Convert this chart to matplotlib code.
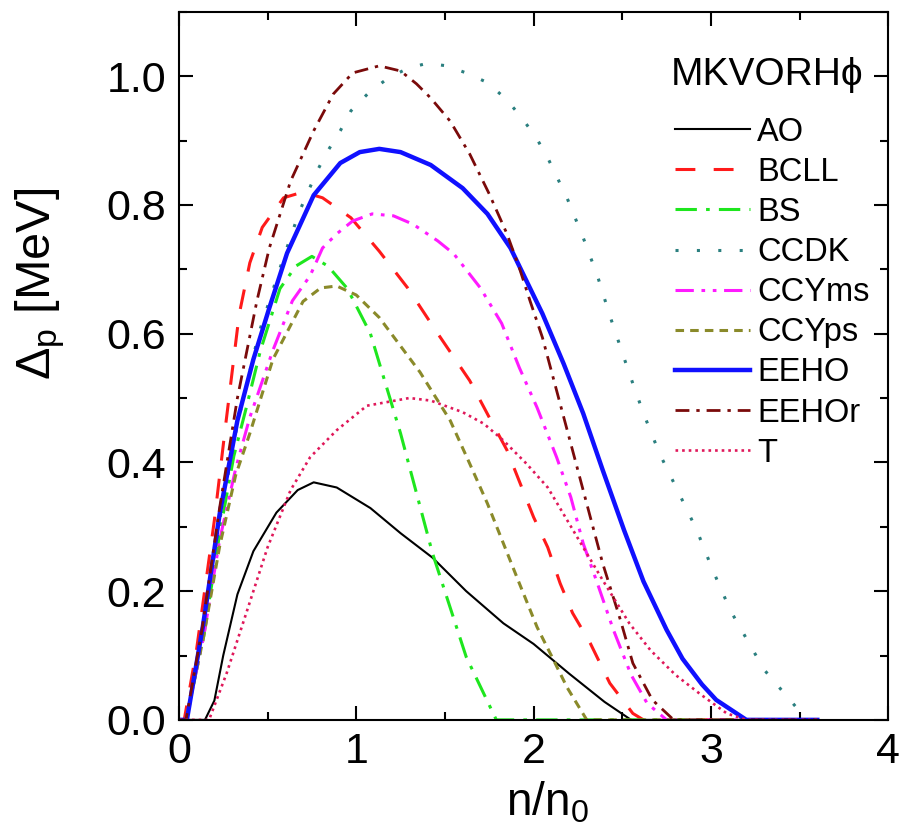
import matplotlib
matplotlib.use("Agg")
import matplotlib.pyplot as plt
from matplotlib.ticker import MultipleLocator

plt.rcParams['font.family'] = ['Liberation Sans', 'DejaVu Sans']
plt.rcParams['mathtext.default'] = 'regular'

# Proton gap vs density, MKVORH-phi model, for several gap parametrisations
ao_x = [0.0, 0.147, 0.2, 0.25, 0.33, 0.42, 0.55, 0.67, 0.76, 0.89, 1.08, 1.25, 1.43, 1.62, 1.83, 2.0, 2.2, 2.4, 2.55, 3.6]
ao_y = [0.0, 0.0, 0.03, 0.1, 0.195, 0.262, 0.322, 0.357, 0.369, 0.361, 0.329, 0.29, 0.252, 0.2, 0.15, 0.118, 0.072, 0.028, 0.0, 0.0]

bcll_x = [0.0, 0.03, 0.1, 0.15, 0.2, 0.26, 0.34, 0.40, 0.47, 0.59, 0.7, 0.81, 0.97, 1.13, 1.29, 1.46, 1.64, 1.75, 1.85, 2.0, 2.08, 2.15, 2.22, 2.32, 2.43, 2.56, 2.62, 3.6]
bcll_y = [0.0, 0.0, 0.11, 0.21, 0.31, 0.45, 0.63, 0.71, 0.765, 0.811, 0.82, 0.811, 0.78, 0.728, 0.671, 0.6, 0.527, 0.47, 0.419, 0.315, 0.268, 0.212, 0.166, 0.119, 0.057, 0.01, 0.0, 0.0]

bs_x = [0.0, 0.04, 0.14, 0.23, 0.31, 0.38, 0.46, 0.57, 0.66, 0.75, 0.84, 0.95, 1.08, 1.25, 1.43, 1.62, 1.79, 3.6]
bs_y = [0.0, 0.0, 0.13, 0.29, 0.41, 0.485, 0.574, 0.67, 0.705, 0.72, 0.705, 0.67, 0.6, 0.445, 0.259, 0.098, 0.0, 0.0]

ccdk_x = [0.0, 0.045, 0.135, 0.23, 0.33, 0.45, 0.58, 0.68, 0.78, 0.84, 0.91, 0.97, 1.07, 1.18, 1.29, 1.4, 1.51, 1.62, 1.74, 1.85, 1.94, 2.02, 2.08, 2.19, 2.28, 2.36, 2.43, 2.54, 2.62, 2.71, 2.82, 2.92, 3.01, 3.11, 3.3, 3.48, 3.55, 3.6]
ccdk_y = [0.0, 0.0, 0.14, 0.31, 0.46, 0.6, 0.71, 0.79, 0.853, 0.884, 0.915, 0.946, 0.974, 0.997, 1.012, 1.02, 1.016, 1.005, 0.99, 0.963, 0.933, 0.902, 0.873, 0.81, 0.749, 0.69, 0.628, 0.538, 0.476, 0.414, 0.352, 0.295, 0.233, 0.17, 0.078, 0.02, 0.0, 0.0]

ccyms_x = [0.0, 0.04, 0.14, 0.23, 0.32, 0.40, 0.53, 0.64, 0.74, 0.81, 0.89, 0.98, 1.09, 1.21, 1.32, 1.46, 1.55, 1.70, 1.82, 1.92, 2.02, 2.13, 2.21, 2.28, 2.36, 2.45, 2.55, 2.64, 2.75, 3.6]
ccyms_y = [0.0, 0.0, 0.13, 0.28, 0.39, 0.47, 0.574, 0.651, 0.69, 0.733, 0.755, 0.775, 0.786, 0.783, 0.77, 0.744, 0.724, 0.671, 0.616, 0.547, 0.485, 0.408, 0.346, 0.274, 0.212, 0.14, 0.07, 0.026, 0.0, 0.0]

ccyps_x = [0.0, 0.04, 0.14, 0.23, 0.32, 0.40, 0.53, 0.70, 0.80, 0.89, 1.0, 1.13, 1.36, 1.53, 1.64, 1.74, 1.83, 1.92, 2.02, 2.10, 2.19, 2.30, 3.6]
ccyps_y = [0.0, 0.0, 0.13, 0.27, 0.38, 0.445, 0.56, 0.65, 0.671, 0.674, 0.66, 0.625, 0.54, 0.465, 0.398, 0.336, 0.274, 0.212, 0.144, 0.1, 0.05, 0.0, 0.0]

eeho_x = [0.0, 0.045, 0.135, 0.23, 0.33, 0.42, 0.51, 0.61, 0.76, 0.91, 1.02, 1.13, 1.25, 1.42, 1.60, 1.74, 1.87, 1.96, 2.05, 2.17, 2.28, 2.39, 2.51, 2.62, 2.75, 2.84, 2.95, 3.03, 3.2, 3.6]
eeho_y = [0.0, 0.0, 0.145, 0.32, 0.465, 0.56, 0.64, 0.725, 0.815, 0.865, 0.882, 0.887, 0.882, 0.862, 0.826, 0.786, 0.733, 0.682, 0.631, 0.553, 0.476, 0.388, 0.295, 0.215, 0.14, 0.095, 0.055, 0.031, 0.0, 0.0]

eehor_x = [0.0, 0.04, 0.13, 0.23, 0.33, 0.44, 0.51, 0.63, 0.76, 0.87, 0.98, 1.13, 1.25, 1.34, 1.42, 1.53, 1.64, 1.75, 1.85, 1.92, 1.98, 2.05, 2.15, 2.24, 2.32, 2.39, 2.49, 2.56, 2.67, 2.79, 3.6]
eehor_y = [0.0, 0.0, 0.14, 0.33, 0.5, 0.651, 0.733, 0.837, 0.915, 0.972, 1.005, 1.016, 1.008, 0.988, 0.966, 0.93, 0.879, 0.817, 0.755, 0.702, 0.651, 0.594, 0.491, 0.398, 0.315, 0.243, 0.155, 0.088, 0.031, 0.0, 0.0]

t_x = [0.0, 0.17, 0.27, 0.38, 0.50, 0.63, 0.74, 0.89, 1.06, 1.3, 1.42, 1.60, 1.72, 1.83, 1.96, 2.08, 2.19, 2.28, 2.39, 2.54, 2.66, 2.8, 2.94, 3.09, 3.2, 3.6]
t_y = [0.0, 0.0, 0.073, 0.166, 0.268, 0.357, 0.408, 0.45, 0.488, 0.5, 0.496, 0.478, 0.46, 0.434, 0.398, 0.361, 0.31, 0.268, 0.217, 0.15, 0.108, 0.07, 0.04, 0.01, 0.0, 0.0]

fig = plt.figure(figsize=(8.99, 8.4), dpi=100)
ax = fig.add_axes([0.199, 0.143, 0.789, 0.843])

ax.plot(ao_x, ao_y, color='black', lw=1.5, label='AO')
ax.plot(bcll_x, bcll_y, color='#ff1a1a', lw=2.2, dashes=(6.5, 6), label='BCLL')
ax.plot(bs_x, bs_y, color='#1ee61e', lw=2.2, dashes=(7, 3, 1.2, 3), label='BS')
ax.plot(ccdk_x, ccdk_y, color='#2a7f7f', lw=2.2, dashes=(1, 6), label='CCDK')
ax.plot(ccyms_x, ccyms_y, color='#ff1aff', lw=2.2, dashes=(6, 2.5, 1.2, 2.5, 1.2, 2.5), label='CCYms')
ax.plot(ccyps_x, ccyps_y, color='#8a8a2a', lw=2.2, dashes=(2.8, 2), label='CCYps')
ax.plot(eeho_x, eeho_y, color='#1010ff', lw=3.2, label='EEHO')
ax.plot(eehor_x, eehor_y, color='#7a0a0a', lw=2.0, dashes=(5, 2.5, 1.2, 2.5), label='EEHOr')
ax.plot(t_x, t_y, color='#e0185a', lw=1.9, dashes=(1, 1.5), label='T')

ax.set_xlim(0, 4)
ax.set_ylim(0, 1.1)
ax.xaxis.set_major_locator(MultipleLocator(1))
ax.xaxis.set_minor_locator(MultipleLocator(0.5))
ax.yaxis.set_major_locator(MultipleLocator(0.2))
ax.yaxis.set_minor_locator(MultipleLocator(0.1))
ax.tick_params(which='both', direction='in', top=True, right=True, width=1.5)
ax.tick_params(which='major', length=10, labelsize=31, pad=9)
ax.tick_params(which='minor', length=6)
ax.yaxis.set_major_formatter(plt.FuncFormatter(lambda v, p: f'{v:.1f}'))
for s in ax.spines.values():
    s.set_linewidth(1.5)

ax.set_xlabel('n/n$_0$', fontsize=33)
ax.set_ylabel(r'$\Delta_p$ [MeV]', fontsize=35)
ax.xaxis.set_label_coords(0.52, -0.085)
ax.yaxis.set_label_coords(-0.158, 0.615)

ax.text(0.965, 0.911, 'MKVORHϕ', transform=ax.transAxes, ha='right', va='center', fontsize=28)
ax.legend(loc='upper left', bbox_to_anchor=(0.70, 0.852), frameon=False,
          fontsize=23.5, handlelength=2.3, handletextpad=0.2, labelspacing=0.28,
          borderpad=0, borderaxespad=0)

fig.savefig('out.png', dpi=100)
